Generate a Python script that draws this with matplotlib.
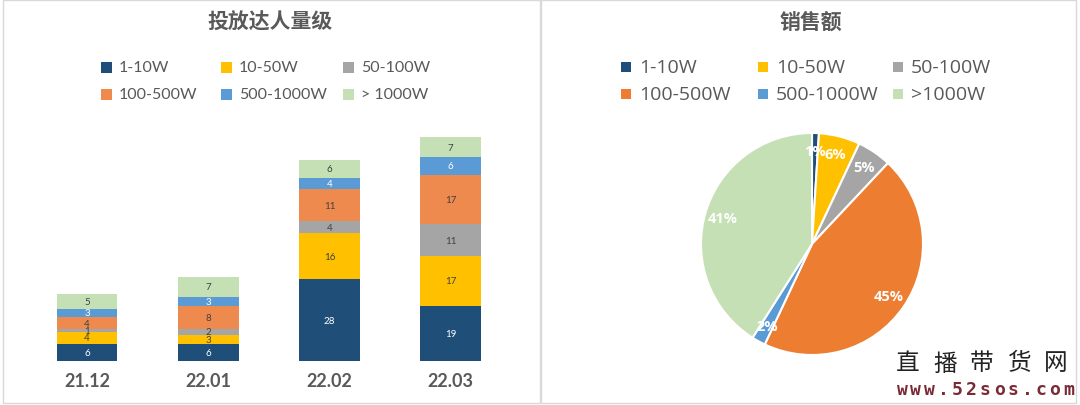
import matplotlib
matplotlib.use("Agg")
import matplotlib.pyplot as plt
from matplotlib.patches import Rectangle
import numpy as np

plt.rcParams['font.family'] = ['Noto Sans CJK SC', 'DejaVu Sans']

# ---- data ----
months = ["21.12", "22.01", "22.02", "22.03"]
tiers = ["1-10W", "10-50W", "50-100W", "100-500W", "500-1000W", "> 1000W"]
tiers_pie = ["1-10W", "10-50W", "50-100W", "100-500W", "500-1000W", ">1000W"]
s_1_10 = [6, 6, 28, 19]
s_10_50 = [4, 3, 16, 17]
s_50_100 = [1, 2, 4, 11]
s_100_500 = [4, 8, 11, 17]
s_500_1000 = [3, 3, 4, 6]
s_gt_1000 = [5, 7, 6, 7]
sales_share = [1, 6, 5, 45, 2, 41]

bar_colors = ["#1F4E79", "#FFC000", "#A5A5A5", "#EE8A4E", "#5B9BD5", "#C5E0B4"]
pie_colors = ["#1F4E79", "#FFC000", "#A5A5A5", "#ED7D31", "#5B9BD5", "#C5E0B4"]
label_colors = ["white", "#404040", "#404040", "#404040", "white", "#404040"]

W, H = 1080, 406
fig = plt.figure(figsize=(W / 100, H / 100), dpi=100)
fig.patch.set_facecolor("white")

def fx(px):
    return px / W

def fy(py):
    return 1 - py / H

# panel borders
for (x0, y0, x1, y1) in [(3, 1, 540, 404), (541, 1, 1076, 404)]:
    fig.patches.append(Rectangle((fx(x0), fy(y1)), fx(x1 - x0), (y1 - y0) / H,
                                 transform=fig.transFigure, fill=False,
                                 edgecolor="#D9D9D9", linewidth=1.0))

title_color = "#595959"
fig.text(fx(270), fy(22), "投放达人量级", ha="center", va="center",
         fontsize=15, fontweight="bold", color=title_color)
fig.text(fx(811), fy(22), "销售额", ha="center", va="center",
         fontsize=15, fontweight="bold", color=title_color)

# ---- bar chart ----
series = [s_1_10, s_10_50, s_50_100, s_100_500, s_500_1000, s_gt_1000]
ax = fig.add_axes([fx(26.4), 44 / H, 485 / W, 262 / H])
x = np.arange(len(months))
bottom = np.zeros(len(months))
for vals, col, lc in zip(series, bar_colors, label_colors):
    bars = ax.bar(x, vals, width=0.5, bottom=bottom, color=col, linewidth=0)
    ax.bar_label(bars, labels=[str(v) for v in vals], label_type="center",
                 fontsize=7, color=lc, family=["Lato", "DejaVu Sans"])
    bottom += np.array(vals)
ax.set_xlim(-0.5, 3.5)
ax.set_ylim(0, 90)
ax.set_xticks(x)
ax.set_xticklabels(months, fontsize=13, fontweight="bold", color="#595959",
                   family=["Lato", "DejaVu Sans"])
ax.tick_params(axis="x", length=0, pad=8)
ax.set_yticks([])
for sp in ax.spines.values():
    sp.set_visible(False)
ax.patch.set_alpha(0)

# left legend
lx = [101, 221, 343]
ly = [68, 95]
for i, (lab, col) in enumerate(zip(tiers, bar_colors)):
    px = lx[i % 3]
    py = ly[i // 3]
    fig.patches.append(Rectangle((fx(px), fy(py + 6)), fx(11), 11 / H,
                                 transform=fig.transFigure, color=col, linewidth=0))
    fig.text(fx(px + 18), fy(py), lab, ha="left", va="center", fontsize=11.5,
             color="#595959", family=["Lato", "DejaVu Sans"])

# right legend
rx = [621, 758, 893]
for i, (lab, col) in enumerate(zip(tiers_pie, pie_colors)):
    px = rx[i % 3]
    py = ly[i // 3]
    fig.patches.append(Rectangle((fx(px), fy(py + 5)), fx(10), 10 / H,
                                 transform=fig.transFigure, color=col, linewidth=0))
    fig.text(fx(px + 18), fy(py), lab, ha="left", va="center", fontsize=14,
             color="#595959", family=["Open Sans", "DejaVu Sans"])

# ---- pie ----
cx, cy, r = 812, 245, 111
pax = fig.add_axes([fx(cx - r), (H - cy - r) / H, 2 * r / W, 2 * r / H])
wedges, texts, autotexts = pax.pie(
    sales_share, colors=pie_colors, startangle=90, counterclock=False,
    autopct=lambda p: f"{p:.0f}%", pctdistance=0.84,
    wedgeprops=dict(edgecolor="white", linewidth=1.5),
    textprops=dict(color="white", fontsize=10.5, fontweight="bold",
                   family=["Open Sans", "DejaVu Sans"]))
pax.set_xlim(-1.0, 1.0)
pax.set_ylim(-1.0, 1.0)
pax.set_aspect("equal")
pax.axis("off")

# ---- watermark ----
wm_chars = "直播带货网"
for i, ch in enumerate(wm_chars):
    fig.text(fx(908 + i * 37), fy(364), ch, ha="center", va="center",
             fontsize=17, color="#222222", family=["Noto Sans CJK SC"])
url = "www.52sos.com"
for i, ch in enumerate(url):
    fig.text(fx(902 + i * 13.9), fy(390), ch, ha="center", va="center",
             fontsize=13, fontweight="bold", color="#7A2A35",
             family=["DejaVu Sans Mono"])

fig.savefig("out.png", dpi=100, facecolor="white")
